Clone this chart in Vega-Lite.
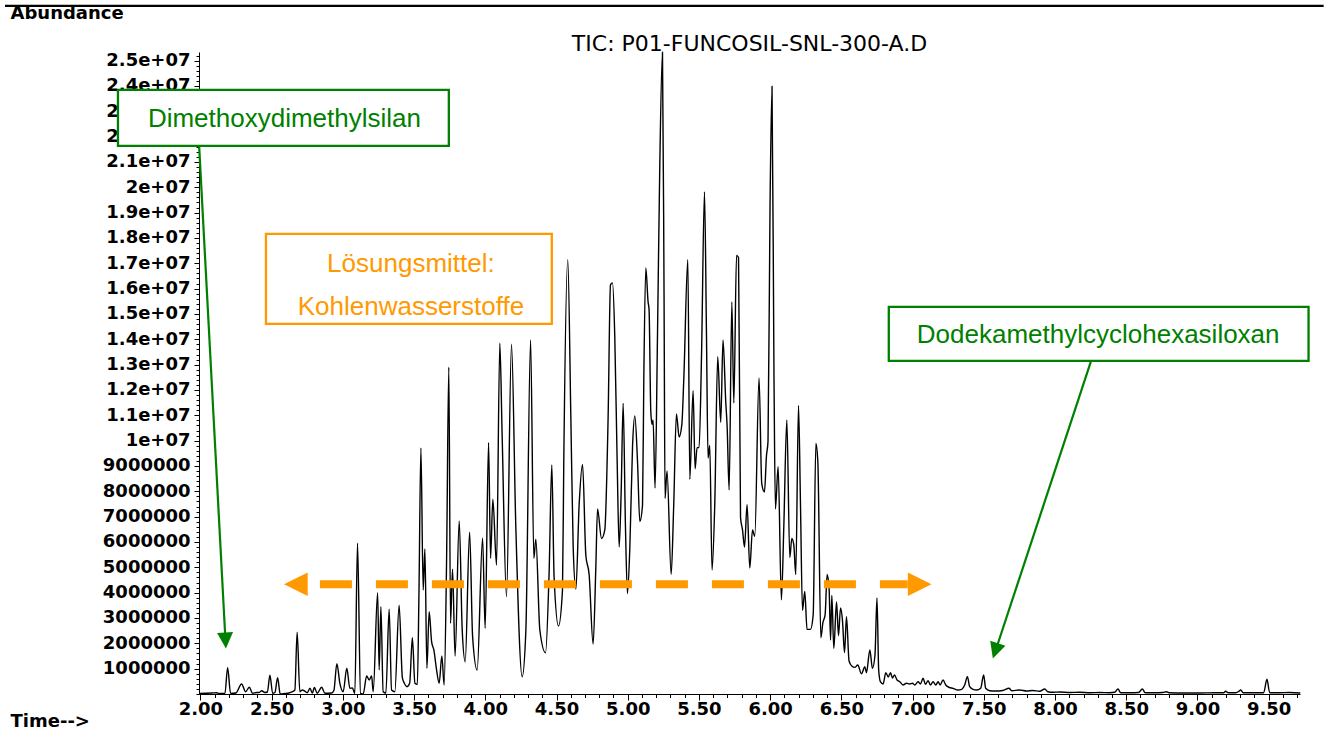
{
  "$schema": "https://vega.github.io/schema/vega-lite/v6.json",
  "width": 1101,
  "height": 642,
  "autosize": {"type": "none"},
  "padding": {"left": 199, "top": 52, "right": 24, "bottom": 39},
  "background": "white",
  "title": {
    "text": "TIC: P01-FUNCOSIL-SNL-300-A.D",
    "anchor": "middle",
    "font": "DejaVu Sans",
    "fontSize": 22,
    "fontWeight": "normal",
    "color": "black",
    "baseline": "alphabetic",
    "offset": 0,
    "dy": 69
  },
  "config": {
    "view": {"stroke": null},
    "axis": {"zindex": 0, "grid": false}
  },
  "datasets": {
    "tic": [
      {"time": 1.996, "abundance": 20000}, {"time": 2.081, "abundance": 40000}, {"time": 2.114, "abundance": 50000},
      {"time": 2.130, "abundance": 20000}, {"time": 2.172, "abundance": 20000}, {"time": 2.191, "abundance": 1040000},
      {"time": 2.212, "abundance": 20000}, {"time": 2.249, "abundance": 40000}, {"time": 2.289, "abundance": 395000},
      {"time": 2.317, "abundance": 91000}, {"time": 2.343, "abundance": 265000}, {"time": 2.366, "abundance": 28000},
      {"time": 2.394, "abundance": 59000}, {"time": 2.413, "abundance": 59000}, {"time": 2.430, "abundance": 130000},
      {"time": 2.453, "abundance": 59000}, {"time": 2.470, "abundance": 79000}, {"time": 2.488, "abundance": 738000},
      {"time": 2.507, "abundance": 28000}, {"time": 2.523, "abundance": 59000}, {"time": 2.542, "abundance": 644000},
      {"time": 2.560, "abundance": 0}, {"time": 2.593, "abundance": 20000}, {"time": 2.621, "abundance": 39000},
      {"time": 2.642, "abundance": 79000}, {"time": 2.663, "abundance": 158000}, {"time": 2.679, "abundance": 2436000},
      {"time": 2.698, "abundance": 91000}, {"time": 2.716, "abundance": 158000}, {"time": 2.726, "abundance": 138000},
      {"time": 2.750, "abundance": 51000}, {"time": 2.769, "abundance": 225000}, {"time": 2.786, "abundance": 39000},
      {"time": 2.800, "abundance": 257000}, {"time": 2.820, "abundance": 28000}, {"time": 2.851, "abundance": 265000},
      {"time": 2.874, "abundance": 28000}, {"time": 2.921, "abundance": 39000}, {"time": 2.937, "abundance": 138000},
      {"time": 2.958, "abundance": 1196000}, {"time": 2.979, "abundance": 422000}, {"time": 3.002, "abundance": 91000},
      {"time": 3.028, "abundance": 1015000}, {"time": 3.049, "abundance": 225000}, {"time": 3.067, "abundance": 237000},
      {"time": 3.084, "abundance": 20000}, {"time": 3.103, "abundance": 5950000}, {"time": 3.124, "abundance": 28000},
      {"time": 3.143, "abundance": 0}, {"time": 3.167, "abundance": 711000}, {"time": 3.185, "abundance": 553000},
      {"time": 3.202, "abundance": 711000}, {"time": 3.213, "abundance": 91000}, {"time": 3.244, "abundance": 3999000},
      {"time": 3.255, "abundance": 948000}, {"time": 3.267, "abundance": 3447000}, {"time": 3.283, "abundance": 91000},
      {"time": 3.302, "abundance": 39000}, {"time": 3.325, "abundance": 3344000}, {"time": 3.342, "abundance": 158000},
      {"time": 3.365, "abundance": 91000}, {"time": 3.395, "abundance": 3502000}, {"time": 3.418, "abundance": 632000},
      {"time": 3.431, "abundance": 434000}, {"time": 3.450, "abundance": 288000}, {"time": 3.469, "abundance": 422000},
      {"time": 3.488, "abundance": 2220000}, {"time": 3.506, "abundance": 422000}, {"time": 3.523, "abundance": 375000},
      {"time": 3.534, "abundance": 3841000}, {"time": 3.548, "abundance": 9712000}, {"time": 3.564, "abundance": 4106000},
      {"time": 3.576, "abundance": 5725000}, {"time": 3.590, "abundance": 1015000}, {"time": 3.606, "abundance": 3249000},
      {"time": 3.623, "abundance": 2065000}, {"time": 3.639, "abundance": 1737000}, {"time": 3.658, "abundance": 948000},
      {"time": 3.676, "abundance": 422000}, {"time": 3.695, "abundance": 1500000}, {"time": 3.711, "abundance": 355000},
      {"time": 3.728, "abundance": 5172000}, {"time": 3.744, "abundance": 12898000}, {"time": 3.756, "abundance": 2791000},
      {"time": 3.770, "abundance": 4923000}, {"time": 3.788, "abundance": 1500000}, {"time": 3.817, "abundance": 6830000},
      {"time": 3.838, "abundance": 2527000}, {"time": 3.859, "abundance": 1275000}, {"time": 3.890, "abundance": 6384000},
      {"time": 3.911, "abundance": 2262000}, {"time": 3.943, "abundance": 948000}, {"time": 3.981, "abundance": 6147000},
      {"time": 3.999, "abundance": 2594000}, {"time": 4.023, "abundance": 9921000}, {"time": 4.037, "abundance": 5357000},
      {"time": 4.053, "abundance": 7687000}, {"time": 4.079, "abundance": 5093000}, {"time": 4.102, "abundance": 13846000},
      {"time": 4.118, "abundance": 10292000}, {"time": 4.149, "abundance": 3841000}, {"time": 4.184, "abundance": 13806000},
      {"time": 4.214, "abundance": 6672000}, {"time": 4.259, "abundance": 683000}, {"time": 4.285, "abundance": 2527000},
      {"time": 4.318, "abundance": 13976000}, {"time": 4.341, "abundance": 5357000}, {"time": 4.355, "abundance": 6108000},
      {"time": 4.383, "abundance": 2527000}, {"time": 4.423, "abundance": 1631000}, {"time": 4.448, "abundance": 4765000},
      {"time": 4.467, "abundance": 9041000}, {"time": 4.483, "abundance": 4631000}, {"time": 4.514, "abundance": 2685000},
      {"time": 4.542, "abundance": 4106000}, {"time": 4.551, "abundance": 9140000}, {"time": 4.579, "abundance": 17146000},
      {"time": 4.601, "abundance": 10818000}, {"time": 4.617, "abundance": 5804000}, {"time": 4.636, "abundance": 4145000},
      {"time": 4.659, "abundance": 7470000}, {"time": 4.683, "abundance": 9057000}, {"time": 4.706, "abundance": 5468000},
      {"time": 4.729, "abundance": 4718000}, {"time": 4.757, "abundance": 1974000}, {"time": 4.776, "abundance": 4974000},
      {"time": 4.788, "abundance": 7304000}, {"time": 4.816, "abundance": 6135000}, {"time": 4.839, "abundance": 6475000},
      {"time": 4.862, "abundance": 10818000}, {"time": 4.879, "abundance": 16147000}, {"time": 4.893, "abundance": 16226000},
      {"time": 4.909, "abundance": 14142000}, {"time": 4.926, "abundance": 9140000}, {"time": 4.940, "abundance": 5804000},
      {"time": 4.954, "abundance": 7975000}, {"time": 4.968, "abundance": 11473000}, {"time": 4.984, "abundance": 6633000},
      {"time": 4.998, "abundance": 3968000}, {"time": 5.015, "abundance": 5804000}, {"time": 5.034, "abundance": 9807000},
      {"time": 5.050, "abundance": 10975000}, {"time": 5.069, "abundance": 9140000}, {"time": 5.085, "abundance": 6802000},
      {"time": 5.104, "abundance": 7470000}, {"time": 5.113, "abundance": 12476000}, {"time": 5.127, "abundance": 16818000},
      {"time": 5.143, "abundance": 15476000}, {"time": 5.150, "abundance": 15160000}, {"time": 5.162, "abundance": 11141000},
      {"time": 5.171, "abundance": 10640000}, {"time": 5.178, "abundance": 10818000}, {"time": 5.192, "abundance": 8133000},
      {"time": 5.209, "abundance": 14142000}, {"time": 5.225, "abundance": 20814000}, {"time": 5.244, "abundance": 25330000},
      {"time": 5.255, "abundance": 15812000}, {"time": 5.262, "abundance": 7722000}, {"time": 5.276, "abundance": 8804000},
      {"time": 5.305, "abundance": 4718000}, {"time": 5.323, "abundance": 7470000}, {"time": 5.342, "abundance": 11058000},
      {"time": 5.361, "abundance": 10146000}, {"time": 5.380, "abundance": 10640000}, {"time": 5.394, "abundance": 12476000},
      {"time": 5.422, "abundance": 17146000}, {"time": 5.436, "abundance": 8472000}, {"time": 5.459, "abundance": 11974000},
      {"time": 5.473, "abundance": 8891000}, {"time": 5.487, "abundance": 9724000}, {"time": 5.501, "abundance": 9724000},
      {"time": 5.518, "abundance": 13309000}, {"time": 5.539, "abundance": 19819000}, {"time": 5.553, "abundance": 14142000},
      {"time": 5.564, "abundance": 9317000}, {"time": 5.576, "abundance": 9807000}, {"time": 5.592, "abundance": 4896000},
      {"time": 5.611, "abundance": 7470000}, {"time": 5.632, "abundance": 13309000}, {"time": 5.653, "abundance": 10723000},
      {"time": 5.669, "abundance": 13976000}, {"time": 5.688, "abundance": 11568000}, {"time": 5.698, "abundance": 10557000},
      {"time": 5.712, "abundance": 8054000}, {"time": 5.731, "abundance": 15476000}, {"time": 5.745, "abundance": 11489000},
      {"time": 5.764, "abundance": 17312000}, {"time": 5.778, "abundance": 17229000}, {"time": 5.792, "abundance": 6972000},
      {"time": 5.806, "abundance": 6475000}, {"time": 5.820, "abundance": 5804000}, {"time": 5.838, "abundance": 7470000},
      {"time": 5.857, "abundance": 4974000}, {"time": 5.876, "abundance": 6475000}, {"time": 5.892, "abundance": 6222000},
      {"time": 5.922, "abundance": 12476000}, {"time": 5.941, "abundance": 8306000}, {"time": 5.960, "abundance": 7975000},
      {"time": 5.974, "abundance": 9396000}, {"time": 5.985, "abundance": 9972000}, {"time": 5.999, "abundance": 19148000},
      {"time": 6.013, "abundance": 23984000}, {"time": 6.027, "abundance": 12476000}, {"time": 6.037, "abundance": 7304000},
      {"time": 6.056, "abundance": 8974000}, {"time": 6.079, "abundance": 3719000}, {"time": 6.096, "abundance": 6633000},
      {"time": 6.117, "abundance": 10818000}, {"time": 6.138, "abundance": 5385000}, {"time": 6.152, "abundance": 6135000},
      {"time": 6.166, "abundance": 5883000}, {"time": 6.180, "abundance": 4718000}, {"time": 6.199, "abundance": 11390000},
      {"time": 6.213, "abundance": 7470000}, {"time": 6.227, "abundance": 3301000}, {"time": 6.243, "abundance": 4051000},
      {"time": 6.259, "abundance": 2550000}, {"time": 6.283, "abundance": 2550000}, {"time": 6.302, "abundance": 3119000},
      {"time": 6.321, "abundance": 9890000}, {"time": 6.335, "abundance": 9140000}, {"time": 6.356, "abundance": 2219000},
      {"time": 6.370, "abundance": 2803000}, {"time": 6.386, "abundance": 3135000}, {"time": 6.400, "abundance": 4718000},
      {"time": 6.414, "abundance": 4145000}, {"time": 6.424, "abundance": 2132000}, {"time": 6.433, "abundance": 3885000},
      {"time": 6.447, "abundance": 1800000}, {"time": 6.466, "abundance": 3632000}, {"time": 6.480, "abundance": 2302000},
      {"time": 6.494, "abundance": 3395000}, {"time": 6.508, "abundance": 2882000}, {"time": 6.522, "abundance": 1634000},
      {"time": 6.536, "abundance": 3052000}, {"time": 6.554, "abundance": 1303000}, {"time": 6.573, "abundance": 1105000},
      {"time": 6.596, "abundance": 1050000}, {"time": 6.615, "abundance": 1145000}, {"time": 6.641, "abundance": 797000},
      {"time": 6.665, "abundance": 1078000}, {"time": 6.676, "abundance": 841000}, {"time": 6.700, "abundance": 1737000},
      {"time": 6.718, "abundance": 1015000}, {"time": 6.736, "abundance": 1540000}, {"time": 6.750, "abundance": 3790000},
      {"time": 6.762, "abundance": 948000}, {"time": 6.774, "abundance": 486000}, {"time": 6.793, "abundance": 395000},
      {"time": 6.812, "abundance": 841000}, {"time": 6.829, "abundance": 671000}, {"time": 6.845, "abundance": 841000},
      {"time": 6.859, "abundance": 632000}, {"time": 6.873, "abundance": 750000}, {"time": 6.891, "abundance": 553000},
      {"time": 6.910, "abundance": 486000}, {"time": 6.933, "abundance": 355000}, {"time": 6.957, "abundance": 422000},
      {"time": 6.980, "abundance": 395000}, {"time": 6.999, "abundance": 422000}, {"time": 7.015, "abundance": 355000},
      {"time": 7.039, "abundance": 486000}, {"time": 7.055, "abundance": 395000}, {"time": 7.074, "abundance": 620000},
      {"time": 7.090, "abundance": 383000}, {"time": 7.109, "abundance": 525000}, {"time": 7.125, "abundance": 355000},
      {"time": 7.144, "abundance": 486000}, {"time": 7.163, "abundance": 355000}, {"time": 7.179, "abundance": 486000},
      {"time": 7.193, "abundance": 355000}, {"time": 7.214, "abundance": 553000}, {"time": 7.233, "abundance": 355000},
      {"time": 7.256, "abundance": 265000}, {"time": 7.284, "abundance": 225000}, {"time": 7.319, "abundance": 158000},
      {"time": 7.345, "abundance": 186000}, {"time": 7.366, "abundance": 355000}, {"time": 7.385, "abundance": 683000},
      {"time": 7.401, "abundance": 288000}, {"time": 7.424, "abundance": 186000}, {"time": 7.450, "abundance": 158000},
      {"time": 7.478, "abundance": 225000}, {"time": 7.499, "abundance": 750000}, {"time": 7.513, "abundance": 225000},
      {"time": 7.541, "abundance": 130000}, {"time": 7.583, "abundance": 118000}, {"time": 7.633, "abundance": 138000},
      {"time": 7.677, "abundance": 225000}, {"time": 7.696, "abundance": 130000}, {"time": 7.752, "abundance": 158000},
      {"time": 7.801, "abundance": 118000}, {"time": 7.843, "abundance": 138000}, {"time": 7.892, "abundance": 107000},
      {"time": 7.928, "abundance": 197000}, {"time": 7.949, "abundance": 91000}, {"time": 7.986, "abundance": 67000},
      {"time": 8.033, "abundance": 79000}, {"time": 8.103, "abundance": 59000}, {"time": 8.173, "abundance": 67000},
      {"time": 8.244, "abundance": 51000}, {"time": 8.314, "abundance": 59000}, {"time": 8.384, "abundance": 51000},
      {"time": 8.419, "abundance": 67000}, {"time": 8.442, "abundance": 197000}, {"time": 8.461, "abundance": 51000},
      {"time": 8.524, "abundance": 51000}, {"time": 8.587, "abundance": 59000}, {"time": 8.613, "abundance": 197000},
      {"time": 8.633, "abundance": 51000}, {"time": 8.700, "abundance": 51000}, {"time": 8.756, "abundance": 59000},
      {"time": 8.782, "abundance": 91000}, {"time": 8.805, "abundance": 47000}, {"time": 8.910, "abundance": 39000},
      {"time": 9.016, "abundance": 39000}, {"time": 9.121, "abundance": 47000}, {"time": 9.184, "abundance": 47000},
      {"time": 9.198, "abundance": 107000}, {"time": 9.216, "abundance": 47000}, {"time": 9.269, "abundance": 51000},
      {"time": 9.290, "abundance": 99000}, {"time": 9.304, "abundance": 158000}, {"time": 9.321, "abundance": 51000},
      {"time": 9.402, "abundance": 47000}, {"time": 9.465, "abundance": 51000}, {"time": 9.488, "abundance": 580000},
      {"time": 9.507, "abundance": 51000}, {"time": 9.577, "abundance": 47000}, {"time": 9.647, "abundance": 59000},
      {"time": 9.722, "abundance": 39000}
    ],
    "boxes": [
      {"kind": "Silikon", "t0": 1.421, "t1": 3.744, "a0": 21635000, "a1": 23846000},
      {"kind": "Silikon", "t0": 6.833, "t1": 9.780, "a0": 13147000, "a1": 15279000},
      {"kind": "Lösungsmittel", "t0": 2.460, "t1": 4.467, "a0": 14608000, "a1": 18161000}
    ],
    "labels": [
      {"kind": "Silikon", "label": "Dimethoxydimethylsilan", "time": 2.590, "abundance": 22397000},
      {"kind": "Silikon", "label": "Dodekamethylcyclohexasiloxan", "time": 8.303, "abundance": 13857000},
      {"kind": "Lösungsmittel", "label": "Lösungsmittel:", "time": 3.478, "abundance": 16661000},
      {"kind": "Lösungsmittel", "label": "Kohlenwasserstoffe", "time": 3.478, "abundance": 14963000}
    ],
    "pointers": [
      {"t0": 1.991, "a0": 21635000, "t1": 2.173, "a1": 2408000},
      {"t0": 8.251, "a0": 13107000, "t1": 7.598, "a1": 1974000}
    ]
  },
  "resolve": {"axis": {"x": "independent", "y": "independent"}},
  "layer": [
    {
      "data": {"name": "tic"},
      "mark": {"type": "line", "color": "black", "strokeWidth": 1.4, "interpolate": "monotone"},
      "encoding": {
        "x": {
          "field": "time", "type": "quantitative",
          "scale": {"domain": [1.99, 9.72], "nice": false, "zero": false},
          "axis": {
            "orient": "bottom",
            "values": [2, 2.5, 3, 3.5, 4, 4.5, 5, 5.5, 6, 6.5, 7, 7.5, 8, 8.5, 9, 9.5],
            "format": ".2f",
            "domainColor": "black", "domainWidth": 1,
            "tickColor": "black", "tickSize": 6, "tickWidth": 1,
            "labelFont": "DejaVu Sans", "labelFontSize": 18, "labelFontWeight": "bold", "labelColor": "black",
            "labelPadding": 0, "labelOverlap": false, "labelFlush": false, "labelBound": false,
            "title": "Time-->",
            "titleFont": "DejaVu Sans", "titleFontSize": 18, "titleFontWeight": "bold", "titleColor": "black",
            "titleAlign": "left", "titleBaseline": "alphabetic", "titleAnchor": "start",
            "titleX": -189, "titleY": 32
          }
        },
        "y": {
          "field": "abundance", "type": "quantitative",
          "scale": {"domain": [0, 25340000], "nice": false},
          "axis": {
            "orient": "left",
            "values": [1000000, 2000000, 3000000, 4000000, 5000000, 6000000, 7000000, 8000000, 9000000, 10000000, 11000000, 12000000, 13000000, 14000000, 15000000, 16000000, 17000000, 18000000, 19000000, 20000000, 21000000, 22000000, 23000000, 24000000, 25000000],
            "labelExpr": "datum.value < 9999999 ? format(datum.value, 'd') : format(datum.value / 10000000, '.2~f') + 'e+07'",
            "domainColor": "black", "domainWidth": 1,
            "tickColor": "black", "tickSize": 5, "tickWidth": 1,
            "labelFont": "DejaVu Sans", "labelFontSize": 18, "labelFontWeight": "bold", "labelColor": "black",
            "labelPadding": 4, "labelOverlap": false, "labelFlush": false, "labelBound": false,
            "labelBaseline": "middle",
            "title": "Abundance",
            "titleFont": "DejaVu Sans", "titleFontSize": 18, "titleFontWeight": "bold", "titleColor": "black",
            "titleAngle": 0, "titleAlign": "left", "titleBaseline": "alphabetic", "titleAnchor": "start",
            "titleX": -189, "titleY": -34
          }
        }
      }
    },
    {
      "data": {"values": [{"t0": 2.839, "t1": 6.966, "abundance": 4331000}]},
      "mark": {"type": "rule", "color": "#ff9900", "strokeWidth": 8, "strokeDash": [32, 24], "strokeCap": "butt"},
      "encoding": {
        "x": {
          "field": "t0", "type": "quantitative",
          "axis": {"orient": "bottom", "tickCount": 77, "tickSize": 3.5, "tickColor": "black", "tickWidth": 1, "labels": false, "domain": false, "title": null}
        },
        "x2": {"field": "t1"},
        "y": {
          "field": "abundance", "type": "quantitative",
          "axis": {"orient": "left", "tickCount": 127, "tickSize": 3, "tickColor": "black", "tickWidth": 1, "labels": false, "domain": false, "title": null}
        }
      }
    },
    {
      "data": {"values": [{"time": 2.670, "abundance": 4331000}]},
      "mark": {"type": "point", "shape": "M -1 0 L 1 -1 L 1 1 Z", "filled": true, "color": "#ff9900", "opacity": 1, "size": 560},
      "encoding": {
        "x": {"field": "time", "type": "quantitative", "axis": null},
        "y": {"field": "abundance", "type": "quantitative", "axis": null}
      }
    },
    {
      "data": {"values": [{"time": 7.050, "abundance": 4331000}]},
      "mark": {"type": "point", "shape": "M 1 0 L -1 -1 L -1 1 Z", "filled": true, "color": "#ff9900", "opacity": 1, "size": 560},
      "encoding": {
        "x": {"field": "time", "type": "quantitative", "axis": null},
        "y": {"field": "abundance", "type": "quantitative", "axis": null}
      }
    },
    {
      "data": {"values": [{"t0": 0.628, "t1": 9.886, "abundance": 27162000}]},
      "mark": {"type": "rule", "color": "black", "strokeWidth": 2.2},
      "encoding": {
        "x": {"field": "t0", "type": "quantitative", "axis": null},
        "x2": {"field": "t1"},
        "y": {"field": "abundance", "type": "quantitative", "axis": null}
      }
    },
    {
      "data": {"name": "boxes"},
      "mark": {"type": "rect", "fill": "white", "strokeWidth": 2.3},
      "encoding": {
        "x": {"field": "t0", "type": "quantitative", "axis": null},
        "x2": {"field": "t1"},
        "y": {"field": "a0", "type": "quantitative", "axis": null},
        "y2": {"field": "a1"},
        "stroke": {
          "field": "kind", "type": "nominal",
          "scale": {"domain": ["Silikon", "Lösungsmittel"], "range": ["#008000", "#ff9900"]},
          "legend": null
        }
      }
    },
    {
      "data": {"name": "labels"},
      "mark": {"type": "text", "font": "Liberation Sans", "fontSize": 26, "align": "center", "baseline": "alphabetic"},
      "encoding": {
        "x": {"field": "time", "type": "quantitative", "axis": null},
        "y": {"field": "abundance", "type": "quantitative", "axis": null},
        "text": {"field": "label"},
        "color": {
          "field": "kind", "type": "nominal",
          "scale": {"domain": ["Silikon", "Lösungsmittel"], "range": ["#008000", "#ff9900"]},
          "legend": null
        }
      }
    },
    {
      "data": {"name": "pointers"},
      "mark": {"type": "rule", "color": "#008000", "strokeWidth": 2.2},
      "encoding": {
        "x": {"field": "t0", "type": "quantitative", "axis": null},
        "x2": {"field": "t1"},
        "y": {"field": "a0", "type": "quantitative", "axis": null},
        "y2": {"field": "a1"}
      }
    },
    {
      "data": {"values": [{"time": 2.176, "abundance": 2112000}]},
      "mark": {"type": "point", "shape": "M 0 1 L -1 -1 L 1 -1 Z", "filled": true, "color": "#008000", "opacity": 1, "size": 256, "angle": -3},
      "encoding": {
        "x": {"field": "time", "type": "quantitative", "axis": null},
        "y": {"field": "abundance", "type": "quantitative", "axis": null}
      }
    },
    {
      "data": {"values": [{"time": 7.581, "abundance": 1702000}]},
      "mark": {"type": "point", "shape": "M 0 1 L -1 -1 L 1 -1 Z", "filled": true, "color": "#008000", "opacity": 1, "size": 256, "angle": 18},
      "encoding": {
        "x": {"field": "time", "type": "quantitative", "axis": null},
        "y": {"field": "abundance", "type": "quantitative", "axis": null}
      }
    }
  ]
}
